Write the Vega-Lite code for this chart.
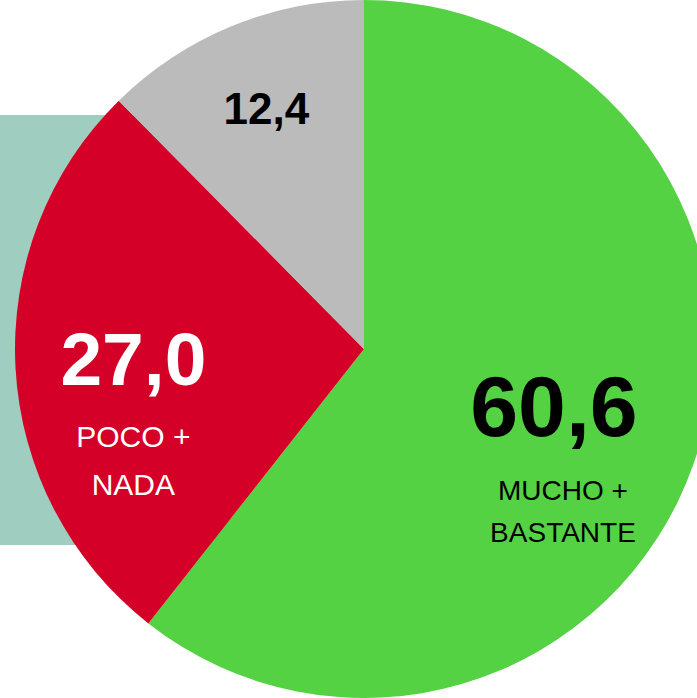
{
  "$schema": "https://vega.github.io/schema/vega-lite/v6.json",
  "autosize": "none",
  "width": 666,
  "height": 698,
  "padding": {"left": 31, "top": 0, "right": 0, "bottom": 0},
  "background": "white",
  "view": {"stroke": null},
  "data": {
    "values": [
      {"categoria": "Mucho + Bastante", "valor": 60.6, "etiqueta": "60,6", "grupo": "MUCHO +\nBASTANTE", "orden": 1},
      {"categoria": "Poco + Nada", "valor": 27.0, "etiqueta": "27,0", "grupo": "POCO +\nNADA", "orden": 2},
      {"categoria": "NS/NC", "valor": 12.4, "etiqueta": "12,4", "grupo": "", "orden": 3}
    ]
  },
  "layer": [
    {
      "mark": {"type": "rect", "color": "#9fcdbf"},
      "encoding": {
        "x": {"datum": -31, "type": "quantitative", "scale": {"domain": [0, 666], "nice": false, "zero": false}, "axis": null},
        "x2": {"datum": 200},
        "y": {"datum": 115, "type": "quantitative", "scale": {"domain": [0, 698], "nice": false, "zero": false, "reverse": true}, "axis": null},
        "y2": {"datum": 545}
      }
    },
    {
      "mark": {"type": "arc", "outerRadius": 349},
      "encoding": {
        "theta": {"field": "valor", "type": "quantitative", "stack": true},
        "order": {"field": "orden", "type": "quantitative"},
        "color": {"field": "categoria", "type": "nominal", "legend": null,
          "scale": {"domain": ["Mucho + Bastante", "Poco + Nada", "NS/NC"], "range": ["#54d244", "#d50027", "#bbbbbb"]}}
      }
    },
    {
      "mark": {"type": "text", "radius": 201, "dy": -5, "font": "Liberation Sans", "fontWeight": "bold", "fontSize": 86, "color": "#000000", "baseline": "middle", "align": "center"},
      "encoding": {
        "theta": {"field": "valor", "type": "quantitative", "stack": true},
        "order": {"field": "orden", "type": "quantitative"},
        "detail": {"field": "categoria"},
        "text": {"condition": {"test": "datum.orden === 1", "field": "etiqueta"}, "value": ""}
      }
    },
    {
      "mark": {"type": "text", "radius": 201, "dy": 77, "dx": 9, "font": "Liberation Sans", "fontSize": 28, "lineHeight": 42, "lineBreak": "\n", "color": "#000000", "baseline": "middle", "align": "center"},
      "encoding": {
        "theta": {"field": "valor", "type": "quantitative", "stack": true},
        "order": {"field": "orden", "type": "quantitative"},
        "detail": {"field": "categoria"},
        "text": {"condition": {"test": "datum.orden === 1", "field": "grupo"}, "value": ""}
      }
    },
    {
      "mark": {"type": "text", "radius": 231, "font": "Liberation Sans", "fontWeight": "bold", "fontSize": 75, "color": "#ffffff", "baseline": "middle", "align": "center"},
      "encoding": {
        "theta": {"field": "valor", "type": "quantitative", "stack": true},
        "order": {"field": "orden", "type": "quantitative"},
        "detail": {"field": "categoria"},
        "text": {"condition": {"test": "datum.orden === 2", "field": "etiqueta"}, "value": ""}
      }
    },
    {
      "mark": {"type": "text", "radius": 231, "dy": 76, "font": "Liberation Sans", "fontSize": 30, "lineHeight": 48, "lineBreak": "\n", "color": "#ffffff", "baseline": "middle", "align": "center"},
      "encoding": {
        "theta": {"field": "valor", "type": "quantitative", "stack": true},
        "order": {"field": "orden", "type": "quantitative"},
        "detail": {"field": "categoria"},
        "text": {"condition": {"test": "datum.orden === 2", "field": "grupo"}, "value": ""}
      }
    },
    {
      "mark": {"type": "text", "radius": 257, "font": "Liberation Sans", "fontWeight": "bold", "fontSize": 44, "color": "#000000", "baseline": "middle", "align": "center"},
      "encoding": {
        "theta": {"field": "valor", "type": "quantitative", "stack": true},
        "order": {"field": "orden", "type": "quantitative"},
        "detail": {"field": "categoria"},
        "text": {"condition": {"test": "datum.orden === 3", "field": "etiqueta"}, "value": ""}
      }
    }
  ]
}
